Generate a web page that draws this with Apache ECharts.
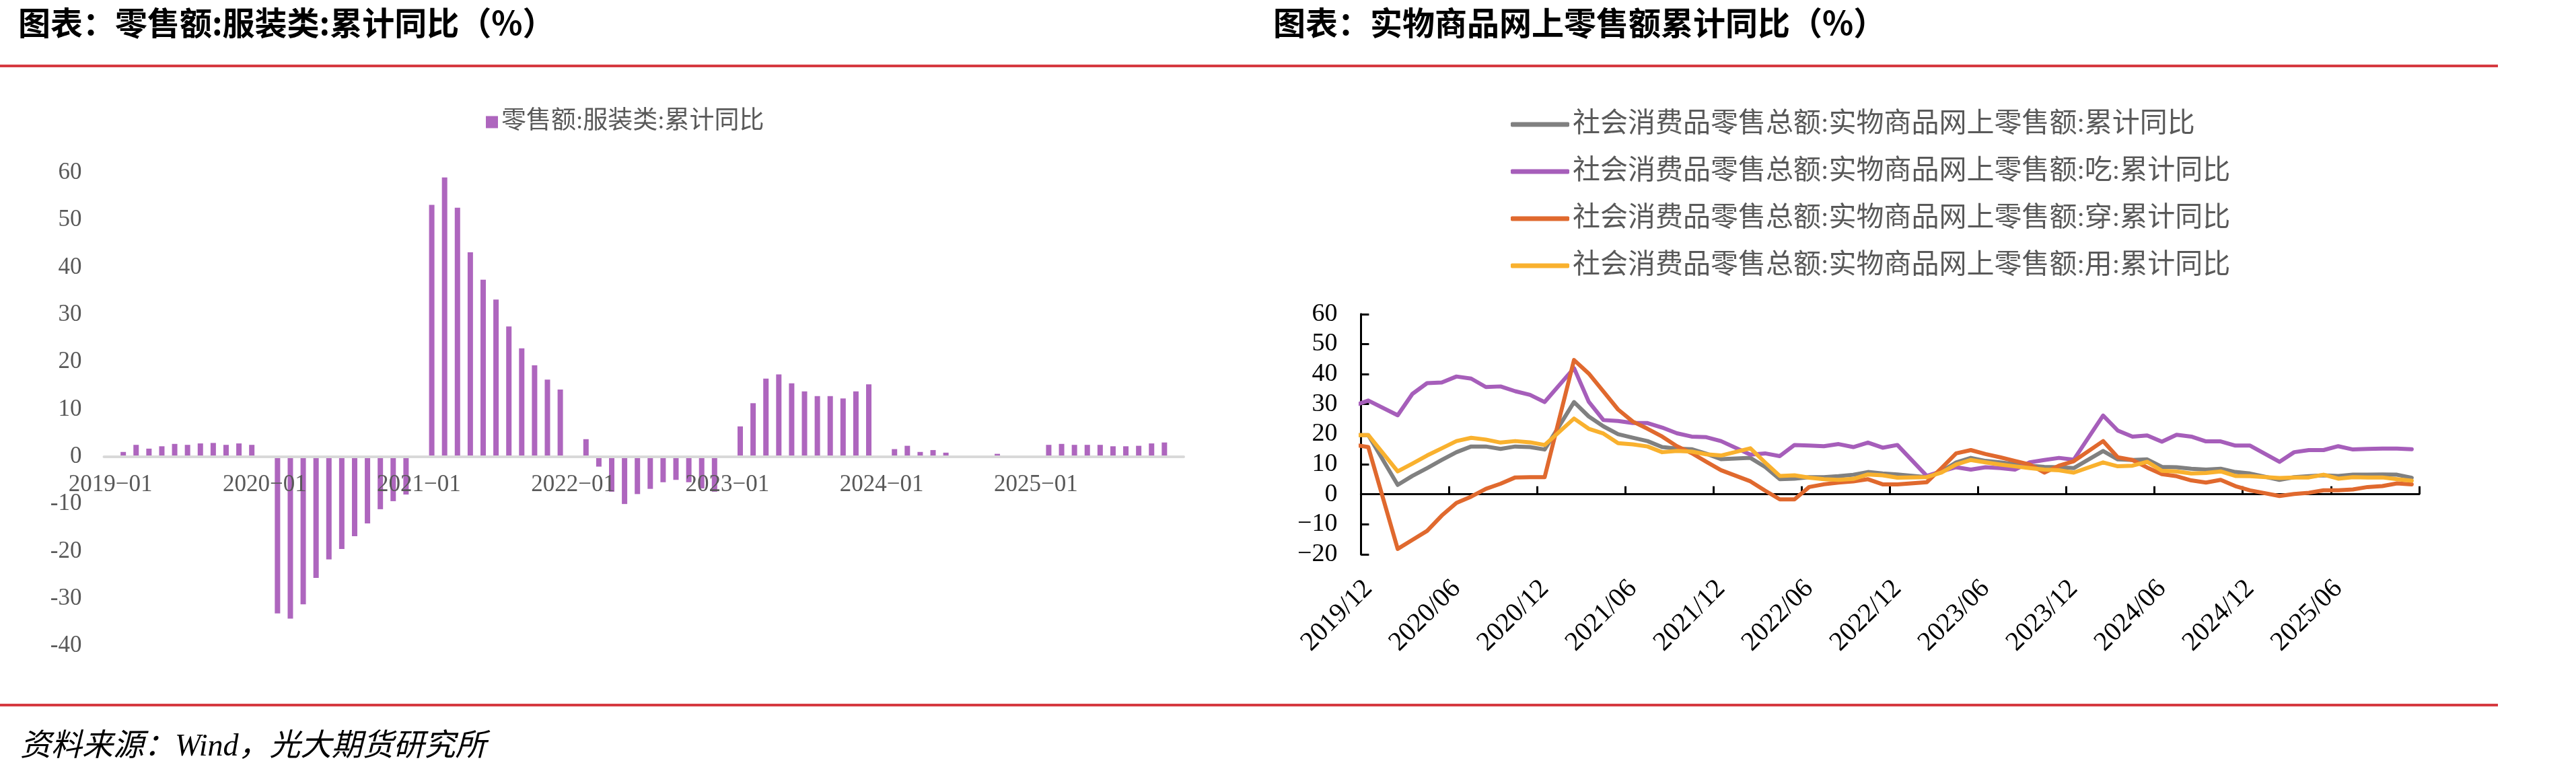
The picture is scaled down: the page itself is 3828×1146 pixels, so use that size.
<!DOCTYPE html>
<html lang="zh">
<head>
<meta charset="UTF-8">
<title>零售额:服装类 / 实物商品网上零售额</title>
<script src="https://cdn.jsdelivr.net/npm/echarts@6/dist/echarts.min.js"></script>
<style>
html, body { margin: 0; padding: 0; background: #fff; }
#main { width: 3828px; height: 1146px; }
</style>
</head>
<body>
<div id="main"></div>
<script>
// ---- 左图：零售额:服装类:累计同比 (2019-01 ~ 2025-12, 1月无数据)
var barMonths = [];
for (var yy = 2019; yy <= 2025; yy++) {
    for (var mm = 1; mm <= 12; mm++) barMonths.push(yy + '-' + (mm < 10 ? '0' + mm : mm));
}
var cloth2019 = [null, 1.0, 2.5, 1.7, 2.2, 2.7, 2.5, 2.8, 2.9, 2.5, 2.8, 2.5];
var cloth2020 = [null, -33.1, -34.2, -31.2, -25.6, -21.7, -19.5, -16.8, -14.1, -11.1, -9.4, -8.0];
var cloth2021 = [null, 53.2, 59.0, 52.6, 43.2, 37.4, 33.2, 27.5, 22.9, 19.3, 16.3, 14.2];
var cloth2022 = [null, 3.7, -2.1, -7.4, -10.0, -7.9, -6.8, -5.4, -4.9, -5.4, -6.7, -7.4];
var cloth2023 = [null, 6.4, 11.3, 16.5, 17.4, 15.5, 13.8, 12.8, 12.8, 12.3, 13.8, 15.3];
var cloth2024 = [null, 1.6, 2.3, 1.0, 1.4, 0.85, 0, 0, 0, 0.6, 0, 0];
var cloth2025 = [null, 2.5, 2.7, 2.5, 2.5, 2.5, 2.2, 2.2, 2.3, 2.8, 3.0, null];
var clothYoY = [].concat(cloth2019, cloth2020, cloth2021, cloth2022, cloth2023, cloth2024, cloth2025);

// ---- 右图：实物商品网上零售额累计同比 (2019/11 ~ 2025/11)
var onlineMonths = ['2019/11', '2019/12'];
for (var y2 = 2020; y2 <= 2025; y2++) {
    for (var m2 = 1; m2 <= 12; m2++) {
        if (y2 === 2025 && m2 === 12) break;
        onlineMonths.push(y2 + '/' + (m2 < 10 ? '0' + m2 : m2));
    }
}
var axisMonths = onlineMonths.slice(1);   // 坐标轴从 2019/12 开始

var totalOnline = [19.7, 19.7,
    null, 3.1, 6.1, 8.7, 11.4, 14.0, 15.9, 15.9, 15.1, 15.9, 15.7, 14.9,
    null, 30.7, 25.9, 22.6, 20.0, 18.8, 17.7, 15.7, 15.2, 15.0, 13.5, 11.7,
    null, 12.1, 9.1, 5.0, 5.2, 5.7, 5.7, 6.0, 6.5, 7.4, 6.9, 6.6,
    null, 5.7, 7.6, 10.6, 12.1, 11.1, 10.6, 10.0, 9.5, 9.1, 9.0, 8.7,
    null, 14.4, 11.6, 11.4, 11.6, 9.1, 9.0, 8.5, 8.2, 8.5, 7.4, 6.9,
    null, 4.8, 5.7, 6.0, 6.3, 6.1, 6.5, 6.5, 6.6, 6.5, 5.5];
var foodOnline = [29.5, 31.2,
    null, 26.3, 33.4, 37.0, 37.2, 39.2, 38.5, 35.7, 35.9, 34.3, 33.1, 30.7,
    null, 42.0, 30.8, 24.7, 24.4, 23.7, 23.7, 22.2, 20.3, 19.2, 19.0, 17.7,
    null, 13.2, 13.6, 12.7, 16.4, 16.2, 16.0, 16.7, 15.7, 17.2, 15.5, 16.4,
    null, 6.1, 7.6, 9.0, 8.2, 9.0, 8.7, 8.2, 10.6, 11.4, 12.1, 11.5,
    null, 26.2, 21.2, 19.2, 19.6, 17.5, 19.8, 19.2, 17.6, 17.6, 16.2, 16.2,
    null, 10.8, 14.0, 14.7, 14.7, 16.0, 14.9, 15.1, 15.2, 15.2, 15.0];
var wearOnline = [16.5, 15.7,
    null, -18.2, -15.2, -12.2, -7.1, -2.9, -0.8, 1.8, 3.5, 5.6, 5.7, 5.7,
    null, 44.7, 40.2, 34.2, 28.2, 24.2, 21.8, 19.2, 16.0, 13.7, 10.8, 8.0,
    null, 4.3, 1.2, -1.7, -1.7, 2.4, 3.3, 3.9, 4.3, 5.0, 3.3, 3.3,
    null, 4.0, 8.7, 13.6, 14.7, 13.4, 12.3, 11.1, 9.9, 7.2, 9.5, 11.0,
    null, 17.7, 12.3, 11.4, 8.9, 6.7, 6.0, 4.6, 3.9, 4.8, 2.7, 1.3,
    null, -0.6, 0.1, 0.5, 1.3, 1.3, 1.6, 2.4, 2.7, 3.6, 3.3];
var useOnline = [19.7, 19.7,
    null, 7.6, 10.2, 12.9, 15.3, 17.7, 18.8, 18.2, 17.2, 17.7, 17.3, 16.4,
    null, 25.2, 21.8, 20.2, 17.0, 16.6, 15.9, 14.0, 14.4, 14.2, 13.3, 12.9,
    null, 15.3, 10.6, 6.1, 6.3, 5.5, 5.0, 4.8, 5.1, 6.6, 6.3, 5.5,
    null, 5.7, 7.2, 9.9, 11.4, 10.6, 9.9, 9.3, 8.7, 8.2, 8.0, 7.2,
    null, 10.6, 9.3, 9.5, 10.8, 7.8, 7.6, 6.9, 7.1, 7.6, 6.1, 6.0,
    null, 5.4, 5.6, 5.6, 6.5, 5.2, 5.7, 5.6, 5.6, 5.0, 4.5];

var lineNames = [
    '社会消费品零售总额:实物商品网上零售额:累计同比',
    '社会消费品零售总额:实物商品网上零售额:吃:累计同比',
    '社会消费品零售总额:实物商品网上零售额:穿:累计同比',
    '社会消费品零售总额:实物商品网上零售额:用:累计同比'
];
var lineColors = ['#808080', '#a65eba', '#e0692e', '#f9b12e'];

// 序号相对 2019/12 (2019/11 为 -1，落在坐标区外被裁掉)
function toPairs(vals) {
    var out = [];
    for (var i = 0; i < vals.length; i++) {
        if (vals[i] !== null) out.push([i - 1, vals[i]]);
    }
    return out;
}
function minusSign(v) { return String(v).replace('-', '\u2212'); }

var serif = "'Liberation Serif', 'Noto Sans CJK SC', serif";
var cjk = "'Noto Sans CJK SC', sans-serif";

var myChart = echarts.init(document.getElementById('main'));

var lineSeries = [totalOnline, foodOnline, wearOnline, useOnline].map(function (vals, k) {
    return {
        name: lineNames[k],
        type: 'line',
        xAxisIndex: 3,
        yAxisIndex: 1,
        data: toPairs(vals),
        showSymbol: false,
        symbol: 'none',
        clip: true,
        color: lineColors[k],
        lineStyle: { width: 6, color: lineColors[k], join: 'round', cap: 'round' }
    };
});

myChart.setOption({
    animation: false,
    backgroundColor: '#fff',
    textStyle: { fontFamily: serif },
    graphic: [
        { type: 'rect', shape: { x: 0, y: 96, width: 3712, height: 4 }, style: { fill: '#d63a40' } },
        { type: 'rect', shape: { x: 0, y: 1046, width: 3712, height: 4 }, style: { fill: '#d63a40' } },
        { type: 'text', x: 27, y: 34, style: { text: '图表：零售额:服装类:累计同比（%）', font: 'bold 48px ' + cjk, fill: '#000', verticalAlign: 'middle' } },
        { type: 'text', x: 1892, y: 34, style: { text: '图表：实物商品网上零售额累计同比（%）', font: 'bold 48px ' + cjk, fill: '#000', verticalAlign: 'middle' } },
        { type: 'text', x: 30, y: 1111, style: { text: '资料来源：Wind，光大期货研究所', font: 'italic 46px ' + serif, fill: '#000', verticalAlign: 'middle' } }
    ],
    legend: [
        {
            data: ['零售额:服装类:累计同比'],
            left: 717, top: 158,
            icon: 'rect', itemWidth: 18, itemHeight: 18,
            textStyle: { fontSize: 37, color: '#595959', fontFamily: serif }
        },
        {
            data: lineNames,
            orient: 'vertical',
            left: 2240, top: 157,
            icon: 'roundRect', itemWidth: 87, itemHeight: 7, itemGap: 24,
            textStyle: { fontSize: 41, lineHeight: 46, color: '#595959', fontFamily: serif }
        }
    ],
    grid: [
        { left: 154.5, right: 2069, top: 256.7, bottom: 185.8, outerBoundsMode: 'none' },
        { left: 2022.4, right: 233.2, top: 466.8, bottom: 322.1, outerBoundsMode: 'none' }
    ],
    xAxis: [
        {
            gridIndex: 0, type: 'category', data: barMonths, boundaryGap: true, z: 3,
            axisLine: { onZero: true, lineStyle: { color: '#d9d9d9', width: 4 } },
            axisTick: { show: false },
            axisLabel: { show: false }
        },
        {
            gridIndex: 1, type: 'category', data: axisMonths, boundaryGap: true,
            axisLine: { onZero: true, lineStyle: { color: '#000', width: 3 } },
            axisTick: { show: true, inside: true, length: 12, interval: 5, lineStyle: { color: '#000', width: 3 } },
            axisLabel: { show: false }
        },
        {
            gridIndex: 1, type: 'category', data: axisMonths, boundaryGap: true, position: 'bottom',
            axisLine: { show: false, onZero: false },
            axisTick: { show: false },
            axisLabel: { interval: 5, rotate: 45, margin: 45, fontSize: 40, color: '#000' }
        },
        { gridIndex: 1, type: 'value', min: -0.5, max: 71.5, show: false },
        {
            // 左图月份标签，紧贴零轴下方
            gridIndex: 0, type: 'category', data: barMonths, boundaryGap: true, position: 'bottom',
            offset: -281.4, z: 4,
            axisLine: { show: false, onZero: false },
            axisTick: { show: false },
            axisLabel: { interval: 11, margin: 25, fontSize: 35, color: '#595959', formatter: minusSign }
        }
    ],
    yAxis: [
        {
            gridIndex: 0, type: 'value', min: -40, max: 60, interval: 10,
            axisLine: { show: false }, axisTick: { show: false }, splitLine: { show: false },
            axisLabel: { fontSize: 35, color: '#595959', margin: 33 }
        },
        {
            gridIndex: 1, type: 'value', min: -20, max: 60, interval: 10,
            axisLine: { show: true, onZero: false, lineStyle: { color: '#000', width: 3 } },
            axisTick: { show: true, inside: true, length: 12, lineStyle: { color: '#000', width: 3 } },
            splitLine: { show: false },
            axisLabel: { fontSize: 38, color: '#000', margin: 35, formatter: minusSign }
        }
    ],
    series: [{
        name: '零售额:服装类:累计同比',
        type: 'bar',
        xAxisIndex: 0,
        yAxisIndex: 0,
        data: clothYoY,
        barWidth: 8,
        itemStyle: { color: '#ae66be' }
    }].concat(lineSeries)
});
</script>
</body>
</html>
